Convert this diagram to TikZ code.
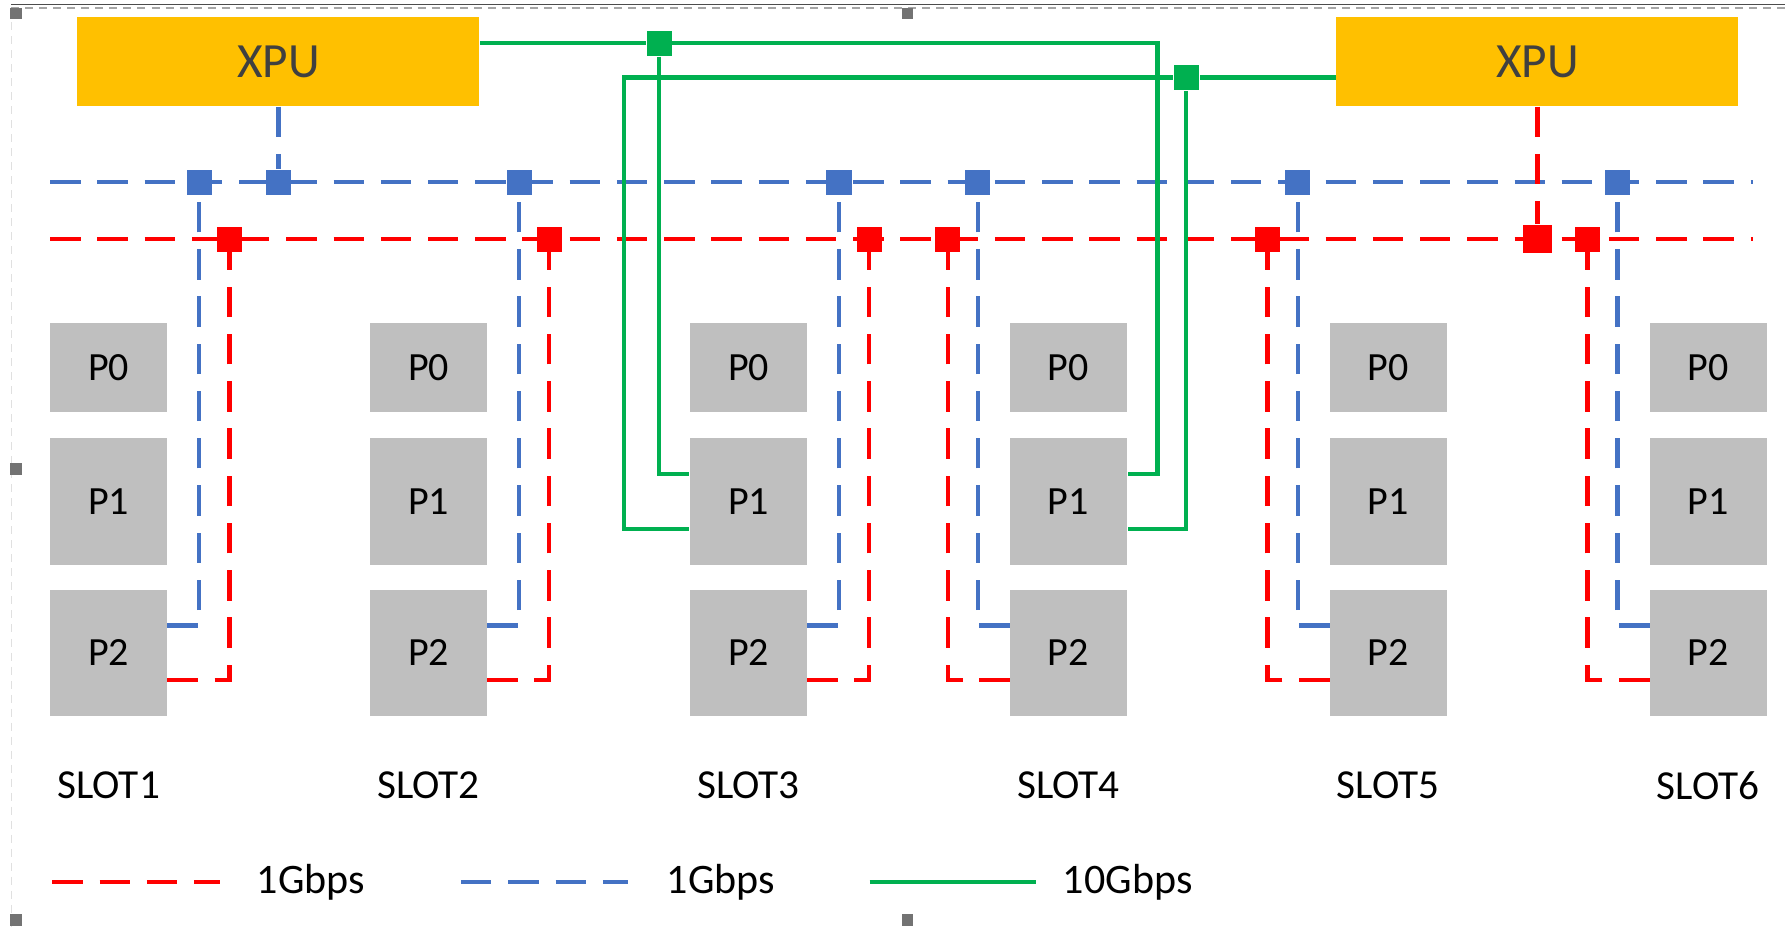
\documentclass[tikz,border=0pt]{standalone}
\usepackage{fontspec}
\setmainfont{Carlito}
\usetikzlibrary{calc}
\definecolor{xgold}{HTML}{FFC000}
\definecolor{xgray}{HTML}{BFBFBF}
\definecolor{xblue}{HTML}{4472C4}
\definecolor{xred}{HTML}{FF0000}
\definecolor{xgreen}{HTML}{00B050}
\newcommand{\handle}[1]{\fill[black!55] (#1) ++(-5,-5) rectangle ++(10,10)}

\tikzset{
  pbox/.style={fill=xgray, minimum width=1.03cm, inner sep=0pt, font=\fontsize{10}{12}\selectfont},
  xpu/.style={fill=xgold, minimum width=3.53cm, minimum height=0.78cm, inner sep=0pt,
    font=\fontsize{12.3}{14}\selectfont, text=black!75},
  bluebus/.style={xblue, line width=1.1pt, dash pattern=on 7.6pt off 4.2pt},
  redbus/.style={xred, line width=1.1pt, dash pattern=on 7.6pt off 4.2pt},
  tenG/.style={xgreen, line width=1.1pt},
  tap/.style={fill=#1, minimum size=0.22cm, inner sep=0pt},
  lbl/.style={font=\fontsize{10.5}{12}\selectfont, inner sep=0pt}
}

\begin{document}
\begin{tikzpicture}[x=0.01cm, y=-0.01cm]
\useasboundingbox (0,0) rectangle (1568,814);
% frame of the screenshot
\draw[black!70, line width=0.3pt] (10,4) -- (1568,4);
\draw[black!35, line width=0.4pt, dash pattern=on 2pt off 1.5pt] (10,7) -- (1568,7);
\draw[black!12, line width=0.3pt, dash pattern=on 2pt off 1.5pt] (10,7) -- (10,814);
\handle{14,12}; \handle{797,12}; \handle{14,412}; \handle{14,808}; \handle{797,808};
%
\node[xpu] (xpuA) at (244.5,54) {XPU};
\node[xpu] (xpuB) at (1350.5,54) {XPU};
%
\coordinate (bl) at (44,160); \coordinate (br) at (1540,160);
\coordinate (rl) at (44,210); \coordinate (rr) at (1540,210);
\draw[bluebus] (bl) -- (br);
\draw[redbus] (rl) -- (rr);
%
\foreach \i/\s in {1/1,2/1,3/1,4/-1,5/-1,6/-1}{
  \pgfmathsetmacro\cx{95.5+281*(\i-1)}
  \node[pbox, minimum height=0.78cm] (s\i p0) at (\cx,323) {P0};
  \node[pbox, minimum height=1.11cm] (s\i p1) at (\cx,440.5) {P1};
  \node[pbox, minimum height=1.11cm] (s\i p2) at (\cx,573.5) {P2};
  \node[lbl, font=\fontsize{10.3}{12}\selectfont] (slot\i) at (\cx,690) {SLOT\i};
  \node[tap=xblue] (b\i) at (\cx+\s*79.5,160) {};
  \node[tap=xred] (r\i) at (\cx+\s*106,210) {};
  \draw[bluebus] ($(s\i p2.center)+(\s*51.5,-24)$) -| (b\i);
  \draw[redbus] ($(s\i p2.center)+(\s*51.5,24)$) -| (r\i);
}
%
\node[tap=xblue] (bx) at (244.5,160) {};
\node[tap=xred, minimum size=0.25cm] (rx) at (1350.5,210) {};
\draw[bluebus] (xpuA) -- (bx);
\draw[redbus] (xpuB) -- (rx);
%
\node[tap=xgreen] (g1) at (579,38) {};
\node[tap=xgreen] (g2) at (1042,68) {};
\draw[tenG] ($(xpuA.east)+(0,-16)$) -- (g1) -| ($(s4p1.east)+(26,-24)$) -- ($(s4p1.east)+(0,-24)$);
\draw[tenG] (g1) |- ($(s3p1.west)+(0,-24)$);
\draw[tenG] ($(xpuB.west)+(0,14)$) -- (g2) -| ($(s3p1.west)+(-57,24)$) -- ($(s3p1.west)+(0,24)$);
\draw[tenG] (g2) |- ($(s4p1.east)+(0,24)$);
%
\coordinate (lr0) at (46,775); \coordinate (lr1) at (193,775);
\coordinate (lb0) at (405,775); \coordinate (lb1) at (552,775);
\coordinate (lg0) at (764,775); \coordinate (lg1) at (910,775);
\draw[redbus] (lr0) -- (lr1);
\draw[bluebus] (lb0) -- (lb1);
\draw[tenG] (lg0) -- (lg1);
\node[lbl, anchor=west] (lgr) at (225,775) {1Gbps};
\node[lbl, anchor=west] (lgb) at (585,775) {1Gbps};
\node[lbl, anchor=west] (lgg) at (933,775) {10Gbps};
\end{tikzpicture}
\end{document}
